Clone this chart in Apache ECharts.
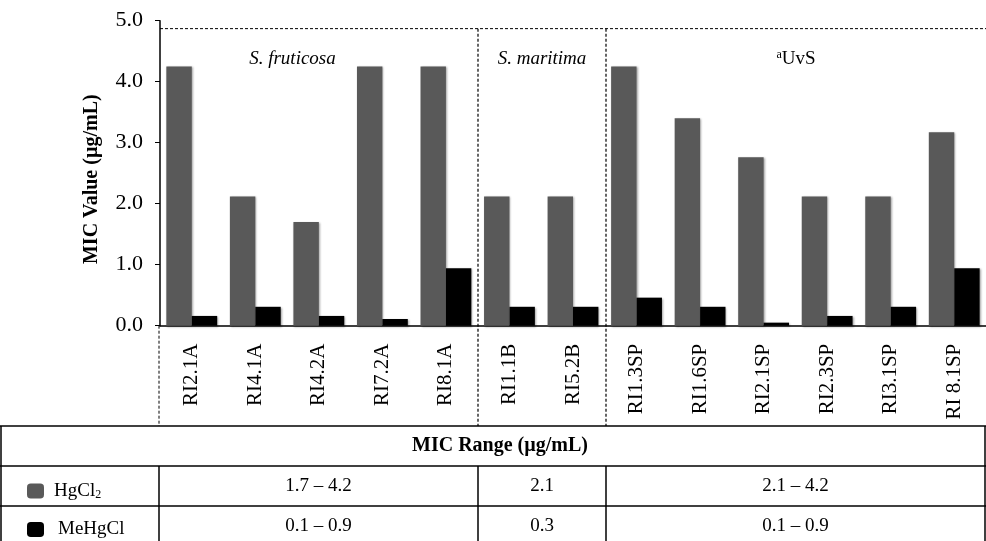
<!DOCTYPE html>
<html>
<head>
<meta charset="utf-8">
<script src="https://cdn.jsdelivr.net/npm/echarts@6/dist/echarts.min.js"></script>
<style>
    html, body { margin: 0; padding: 0; background: #fff; }
    #chart { width: 986px; height: 541px; }
</style>
</head>
<body>
<div id="chart"></div>
<script>
    // strains, in plot order
    let categories = ['RI2.1A', 'RI4.1A', 'RI4.2A', 'RI7.2A', 'RI8.1A', 'RI1.1B', 'RI5.2B',
        'RI1.3SP', 'RI1.6SP', 'RI2.1SP', 'RI2.3SP', 'RI3.1SP', 'RI 8.1SP'];
    let hgcl2Values = [4.25, 2.12, 1.70, 4.25, 4.25, 2.12, 2.12, 4.25, 3.40, 2.76, 2.12, 2.12, 3.17];
    let mehgclValues = [0.16, 0.31, 0.16, 0.11, 0.94, 0.31, 0.31, 0.46, 0.31, 0.05, 0.16, 0.31, 0.94];

    // groups: label + how many strains in each
    let groupNames = ['S. fruticosa', 'S. maritima', 'aUvS'];
    let groupSizes = [5, 2, 6];

    // range table under the chart
    let tableTitle = 'MIC Range (µg/mL)';
    let hgcl2Ranges = ['1.7 – 4.2', '2.1', '2.1 – 4.2'];
    let mehgclRanges = ['0.1 – 0.9', '0.3', '0.1 – 0.9'];

    let yTicks = [0, 1, 2, 3, 4, 5];

    const FONT = '"Liberation Serif", "Times New Roman", serif';
    const GRAY = '#595959';
    const gridLeft = 160, gridTop = 20.7, gridWidth = 832, gridBottom = 215.3;

    let chart = echarts.init(document.getElementById('chart'), null, {renderer: 'canvas'});

    let barShadow = {
        shadowColor: 'rgba(0,0,0,0.35)',
        shadowBlur: 2,
        shadowOffsetX: 1,
        shadowOffsetY: 1
    };

    let option = {
        backgroundColor: '#fff',
        animation: false,
        grid: {left: gridLeft, top: gridTop, width: gridWidth, bottom: gridBottom},
        legend: {
            orient: 'vertical',
            left: 27,
            top: 481,
            padding: 0,
            height: 60,
            itemWidth: 17,
            itemHeight: 15,
            itemGap: 19,
            icon: 'roundRect',
            data: ['HgCl2', 'MeHgCl'],
            formatter: function (name) {
                return name === 'HgCl2' ? '{n|HgCl}{s|2}' : '{m|MeHgCl}';
            },
            textStyle: {
                rich: {
                    n: {fontFamily: FONT, fontSize: 19, color: '#000', lineHeight: 20, padding: [0, 0, 0, 5]},
                    m: {fontFamily: FONT, fontSize: 19, color: '#000', lineHeight: 20, padding: [0, 0, 0, 9]},
                    s: {fontFamily: FONT, fontSize: 12, color: '#000', lineHeight: 20, padding: [8, 0, 0, 0]}
                }
            }
        },
        xAxis: {
            type: 'category',
            data: categories,
            axisLine: {lineStyle: {color: '#000', width: 1.5}},
            axisTick: {show: false},
            axisLabel: {
                rotate: 90,
                margin: 18,
                interval: 0,
                fontFamily: FONT,
                fontSize: 21,
                color: '#000'
            }
        },
        yAxis: {
            type: 'value',
            min: yTicks[0],
            max: yTicks[yTicks.length - 1],
            interval: 1,
            name: 'MIC Value (µg/mL)',
            nameLocation: 'middle',
            nameGap: 58,
            nameTextStyle: {fontFamily: FONT, fontSize: 20, fontWeight: 'bold', color: '#000', padding: [0, 12, 0, 0]},
            axisLine: {show: true, lineStyle: {color: '#000', width: 1.5}},
            axisTick: {show: true, length: 5, lineStyle: {color: '#000'}},
            splitLine: {show: false},
            axisLabel: {
                margin: 17,
                fontFamily: FONT,
                fontSize: 22,
                color: '#000',
                formatter: function (v) {
                    return v.toFixed(1);
                }
            }
        },
        series: [
            {
                name: 'HgCl2',
                type: 'bar',
                data: hgcl2Values,
                barGap: '0%',
                barCategoryGap: '20%',
                itemStyle: Object.assign({color: GRAY}, barShadow)
            },
            {
                name: 'MeHgCl',
                type: 'bar',
                data: mehgclValues,
                barGap: '0%',
                barCategoryGap: '20%',
                itemStyle: Object.assign({color: '#000'}, barShadow)
            }
        ]
    };
    chart.setOption(option);

    // overlay: group boxes, labels and the range table
    let step = gridWidth / categories.length;
    let y0 = chart.convertToPixel({yAxisIndex: 0}, 0);
    let yTop = chart.convertToPixel({yAxisIndex: 0}, 4.87);
    let tableTop = 426, rowH = 40;
    let right = 986;

    function line(x1, y1, x2, y2, dashed, width) {
        return {
            type: 'line',
            z: 10,
            shape: {x1: x1, y1: y1, x2: x2, y2: y2},
            style: {stroke: '#000', lineWidth: width || 1, lineDash: dashed ? [3, 2] : null}
        };
    }

    function text(str, x, y, style) {
        return {
            type: 'text',
            z: 10,
            x: x,
            y: y,
            style: Object.assign({
                text: str,
                fontFamily: FONT,
                fontSize: 19,
                fill: '#000',
                align: 'center',
                verticalAlign: 'middle'
            }, style || {})
        };
    }

    let elements = [];
    // dashed frame around plot and label area
    elements.push(line(gridLeft, yTop, right, yTop, true));
    elements.push(line(gridLeft - 1, y0, gridLeft - 1, tableTop, true));

    // column edges = group boundaries
    let colX = [gridLeft - 1];
    let acc = 0;
    groupSizes.forEach(function (n) {
        acc += n;
        colX.push(acc === categories.length ? right - 1 : gridLeft + acc * step - 2);
    });

    // group separators in the plot
    elements.push(line(colX[1], yTop, colX[1], tableTop, true, 1.2));
    elements.push(line(colX[2], yTop, colX[2], tableTop, true, 1.2));

    // group labels
    let labelX = [gridLeft + 2.07 * step, (colX[1] + colX[2]) / 2, (colX[2] + right) / 2];
    groupNames.forEach(function (g, i) {
        if (g === 'aUvS') {
            elements.push({
                type: 'text', z: 10, x: labelX[i], y: 59,
                style: {
                    text: '{sup|a}{n|UvS}',
                    align: 'center', verticalAlign: 'middle',
                    rich: {
                        sup: {fontFamily: FONT, fontSize: 12, fill: '#000', padding: [0, 0, 8, 0]},
                        n: {fontFamily: FONT, fontSize: 19, fill: '#000'}
                    }
                }
            });
        } else {
            elements.push(text(g, labelX[i], 59, {fontStyle: 'italic'}));
        }
    });

    // range table
    elements.push(line(0, tableTop, right, tableTop, false, 1.5));
    elements.push(line(0, tableTop + rowH, right, tableTop + rowH, false, 1.5));
    elements.push(line(0, tableTop + 2 * rowH, right, tableTop + 2 * rowH, false, 1.5));
    elements.push(line(1, tableTop, 1, 541, false, 1.5));
    elements.push(line(right - 1, tableTop, right - 1, 541, false, 1.5));
    for (let c = 0; c < 3; c++) {
        elements.push(line(colX[c], tableTop + rowH, colX[c], 541, false, 1.5));
    }
    elements.push(text(tableTitle, 500, tableTop + rowH / 2, {fontWeight: 'bold', fontSize: 20}));
    for (let c = 0; c < 3; c++) {
        let cx = (colX[c] + colX[c + 1]) / 2;
        elements.push(text(hgcl2Ranges[c], cx, tableTop + rowH * 1.5));
        elements.push(text(mehgclRanges[c], cx, tableTop + rowH * 2.5));
    }

    chart.setOption({graphic: {elements: elements}});
</script>
</body>
</html>
